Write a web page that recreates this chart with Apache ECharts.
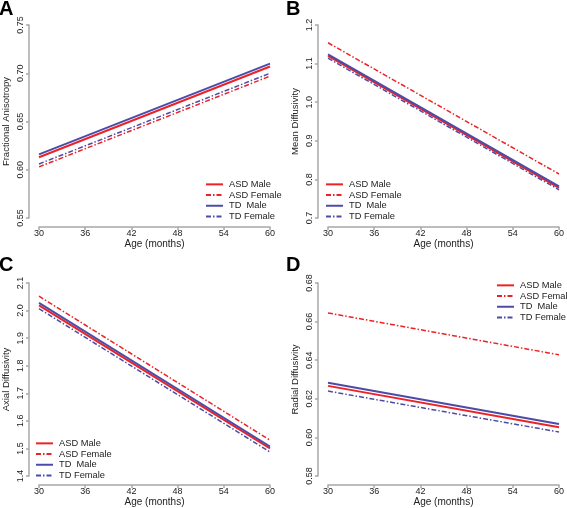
<!DOCTYPE html>
<html>
<head>
<meta charset="utf-8">
<script src="https://cdn.jsdelivr.net/npm/echarts@6/dist/echarts.min.js"></script>
<style>
html,body{margin:0;padding:0;background:#fff;}
#chart{width:567px;height:508px;}
</style>
</head>
<body>
<div id="chart"></div>
<script>
// ---- data ----
const ages = [30, 60];
const xTicks = [30, 36, 42, 48, 54, 60];
const groupNames = ['ASD Male', 'ASD Female', 'TD  Male', 'TD Female'];

// Panel A: Fractional Anisotropy
const faASDMale = [0.613, 0.707];
const faASDFemale = [0.603, 0.697];
const faTDMale = [0.616, 0.710];
const faTDFemale = [0.606, 0.700];

// Panel B: Mean Diffusivity
const mdASDMale = [1.120, 0.778];
const mdASDFemale = [1.154, 0.814];
const mdTDMale = [1.124, 0.782];
const mdTDFemale = [1.114, 0.773];

// Panel C: Axial Diffusivity
const adASDMale = [2.019, 1.500];
const adASDFemale = [2.052, 1.530];
const adTDMale = [2.028, 1.507];
const adTDFemale = [2.007, 1.487];

// Panel D: Radial Diffusivity
const rdASDMale = [0.6267, 0.6053];
const rdASDFemale = [0.6645, 0.6428];
const rdTDMale = [0.6283, 0.6069];
const rdTDFemale = [0.6240, 0.6028];

const panelLetters = ['A', 'B', 'C', 'D'];
const yTitles = ['Fractional Anisotropy', 'Mean Diffusivity', 'Axial Diffusivity', 'Radial Diffusivity'];
const xTitle = 'Age (months)';
const yRanges = [[0.55, 0.75, 0.05, 2], [0.7, 1.2, 0.1, 1], [1.4, 2.1, 0.1, 1], [0.58, 0.68, 0.02, 2]];

const panelData = [
  [faASDMale, faASDFemale, faTDMale, faTDFemale],
  [mdASDMale, mdASDFemale, mdTDMale, mdTDFemale],
  [adASDMale, adASDFemale, adTDMale, adTDFemale],
  [rdASDMale, rdASDFemale, rdTDMale, rdTDFemale]
];

// ---- layout/styles ----
const RED = '#ec2227';
const BLUE = '#4c4ca8';
const AXIS = '#a8a8a8';
const FONT = 'Liberation Sans, Arial, sans-serif';
const grids = [
  {left: 37, top: 25, width: 233, height: 193},
  {left: 328, top: 25, width: 233, height: 193},
  {left: 37, top: 283, width: 233, height: 194},
  {left: 328, top: 283, width: 233, height: 194}
];
const legendPos = [
  {left: 205, top: 179},
  {left: 325, top: 179},
  {left: 35, top: 438},
  {left: 496, top: 280}
];
const lineStyles = [
  {color: RED, width: 2, type: 'solid'},
  {color: RED, width: 1.5, type: [5, 2, 1.5, 2]},
  {color: BLUE, width: 2, type: 'solid'},
  {color: BLUE, width: 1.5, type: [5, 2, 1.5, 2]}
];

const option = {
  animation: false,
  backgroundColor: '#fff',
  textStyle: {fontFamily: FONT},
  title: panelLetters.map((t, i) => ({
    text: t,
    left: i % 2 === 0 ? -1 : 286,
    top: i < 2 ? -1 : 255,
    padding: 0,
    textStyle: {fontSize: 20, fontWeight: 'bold', color: '#000', fontFamily: FONT}
  })),
  grid: grids,
  xAxis: grids.map((g, i) => ({
    type: 'value', gridIndex: i, min: 30, max: 60, interval: 6,
    offset: 9,
    name: xTitle, nameLocation: 'middle', nameGap: 12,
    nameTextStyle: {fontSize: 10, color: '#222', fontFamily: FONT},
    axisLine: {show: true, lineStyle: {color: AXIS, width: 1.5}},
    axisTick: {show: true, length: 3, lineStyle: {color: AXIS, width: 1.5}},
    axisLabel: {fontSize: 9, color: '#222', margin: 2, fontFamily: FONT},
    splitLine: {show: false}
  })),
  yAxis: grids.map((g, i) => ({
    type: 'value', gridIndex: i, min: yRanges[i][0], max: yRanges[i][1], interval: yRanges[i][2],
    offset: 10,
    name: yTitles[i], nameLocation: 'middle', nameGap: 18,
    nameTextStyle: {fontSize: 9.5, color: '#222', fontFamily: FONT},
    axisLine: {show: true, lineStyle: {color: AXIS, width: 1.5}},
    axisTick: {show: true, length: 3, lineStyle: {color: AXIS, width: 1.5}},
    axisLabel: {fontSize: 9, color: '#222', margin: 4, rotate: 90, fontFamily: FONT,
      formatter: v => Number(v).toFixed(yRanges[i][3])},
    splitLine: {show: false}
  })),
  legend: legendPos.map((p, i) => ({
    orient: 'vertical', left: p.left, top: p.top, padding: 0,
    itemWidth: 17, itemHeight: 10.7, itemGap: 0,
    selectedMode: false,
    itemStyle: {opacity: 0},
    data: groupNames,
    textStyle: {fontSize: 9.3, color: '#222', lineHeight: 10.7, padding: [0, 0, 0, 1], fontFamily: FONT}
  })),
  series: []
};

panelData.forEach((groups, pi) => {
  groups.forEach((vals, gi) => {
    option.series.push({
      type: 'line',
      name: groupNames[gi],
      xAxisIndex: pi, yAxisIndex: pi,
      symbol: 'none',
      data: ages.map((a, k) => [a, vals[k]]),
      lineStyle: lineStyles[gi],
      itemStyle: {color: lineStyles[gi].color},
      z: gi === 0 || gi === 2 ? 3 : 2
    });
  });
});

const chart = echarts.init(document.getElementById('chart'), null, {renderer: 'canvas'});
chart.setOption(option);
</script>
</body>
</html>
